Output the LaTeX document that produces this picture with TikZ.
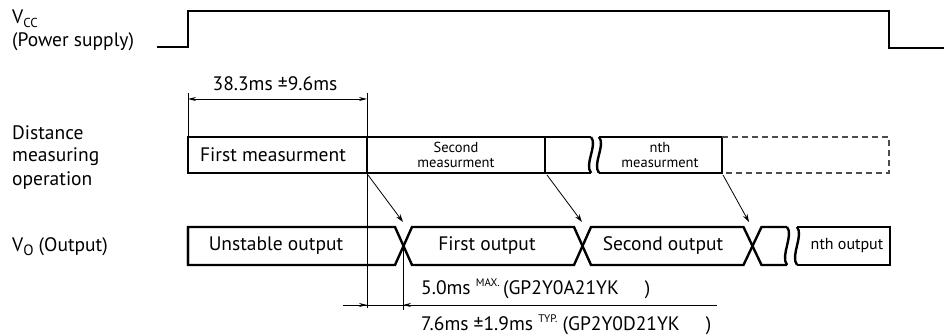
\documentclass[tikz,border=0pt]{standalone}
\usepackage{fontspec}
\setmainfont{PT Sans}
\usetikzlibrary{arrows.meta}
\begin{document}
\begin{tikzpicture}[x=1pt,y=-1pt,
  wave/.style={line width=2.6pt, line join=miter},
  boxline/.style={line width=2.4pt, line join=miter},
  thinl/.style={line width=0.8pt},
  tip/.style={thinl, -{Stealth[length=8pt,width=5pt]}},
  lbl/.style={font=\fontsize{19.5}{22}\selectfont, inner sep=0pt},
  sml/.style={font=\fontsize{14.5}{14.5}\selectfont, inner sep=0pt, align=center},
]
\useasboundingbox (0,0) rectangle (944,336);

% ---------- left labels
\node[lbl, anchor=west] (vcc) at (12,19) {V\raisebox{-4pt}{\fontsize{13}{13}\selectfont CC}};
\node[lbl, anchor=west] (pwr) at (12,42) {(Power supply)};
\node[lbl, anchor=west] (dist) at (12,133) {Distance};
\node[lbl, anchor=west] (meas) at (12,157) {measuring};
\node[lbl, anchor=west] (oper) at (12,181) {operation};
\node[lbl, anchor=west] (vo) at (12,247) {V\raisebox{-4pt}{\fontsize{15}{15}\selectfont O} (Output)};

% ---------- Vcc waveform
\draw[wave] (157,47) -- (188,47) -- (188,11) -- (889,11) -- (889,48) -- (944,48);

% ---------- measurement row
\draw[boxline] (591,137) -- (188,137) -- (188,173) -- (591,173);
\draw[boxline] (367,137) -- (367,173);
\draw[boxline] (545,137) -- (545,173);
\draw[boxline] (591,137) .. controls (598,145) and (584,164) .. (591,173);
\draw[boxline] (599,137) .. controls (606,145) and (592,164) .. (599,173);
\draw[boxline] (599,137) -- (722,137) -- (722,173) -- (599,173);
\draw[line width=1.3pt, gray!60!black, dash pattern=on 6pt off 4pt] (722,137) -- (889,137) -- (889,173) -- (722,173);

\node[lbl] (m1) at (273,155) {First measurment};
\node[sml] (m2) at (456,155) {Second\\measurment};
\node[sml] (mn) at (660,155) {nth\\measurment};

% ---------- output row
\draw[boxline] (188,265) -- (188,227) -- (395,227) -- (412,265) -- (574,265) -- (591,227) -- (743.5,227) -- (761.5,265) -- (787,265);
\draw[boxline] (188,227) -- (188,265) -- (395,265) -- (412,227) -- (574,227) -- (591,265) -- (743.5,265) -- (761.5,227) -- (787,227);
\draw[boxline] (787,227) .. controls (794,235) and (780,256) .. (787,265);
\draw[boxline] (797,227) .. controls (804,235) and (790,256) .. (797,265);
\draw[boxline] (797,227) -- (890,227) -- (890,265) -- (797,265);

\node[lbl] (o0) at (276,246) {Unstable output};
\node[lbl] (o1) at (487,246) {First output};
\node[lbl] (o2) at (663,246) {Second output};
\node[lbl, font=\fontsize{16}{18}\selectfont] (on) at (847,246) {nth output};

% ---------- arrows
\coordinate (a1s) at (368,175);
\coordinate (a1e) at (403,222);
\coordinate (a2s) at (547,175);
\coordinate (a2e) at (582,222);
\coordinate (a3s) at (723,175);
\coordinate (a3e) at (749,222);
\draw[tip] (a1s) -- (a1e);
\draw[tip] (a2s) -- (a2e);
\draw[tip] (a3s) -- (a3e);

% ---------- dimension 38.3ms
\coordinate (e1t) at (188,93);
\coordinate (e1b) at (188,137);
\coordinate (e2t) at (367,93);
\coordinate (e2b) at (367,308);
\draw[thinl] (e1t) -- (e1b);
\draw[thinl] (e2t) -- (e2b);
\coordinate (d1l) at (188,99);
\coordinate (d1r) at (367,99);
\draw[thinl, {Stealth[length=8pt,width=4pt]}-{Stealth[length=8pt,width=4pt]}] (d1l) -- (d1r);
\node[lbl] (t38) at (275,84) {38.3ms ±9.6ms};

% ---------- dimension bottom
\coordinate (e3t) at (403,246);
\coordinate (e3b) at (403,310);
\draw[thinl] (e3t) -- (e3b);
\coordinate (b0) at (343,305);
\coordinate (b1) at (367,305);
\coordinate (b2) at (403,305);
\coordinate (b3) at (430,305);
\coordinate (b4) at (717,305);
\draw[thinl] (b0) -- (b4);
\draw[thinl, -{Stealth[length=8pt,width=4pt]}] (b0) -- (b1);
\draw[thinl, -{Stealth[length=8pt,width=4pt]}] (b3) -- (b2);

\node[lbl, anchor=west] (t50) at (421,289) {5.0ms \raisebox{8pt}{\fontsize{11}{11}\selectfont MAX.}\,(GP2Y0A21YK\hspace{26pt})};
\node[lbl, anchor=west] (t76) at (421,325) {7.6ms ±1.9ms \raisebox{8pt}{\fontsize{11}{11}\selectfont TYP.} (GP2Y0D21YK\hspace{26pt})};
\end{tikzpicture}
\end{document}
